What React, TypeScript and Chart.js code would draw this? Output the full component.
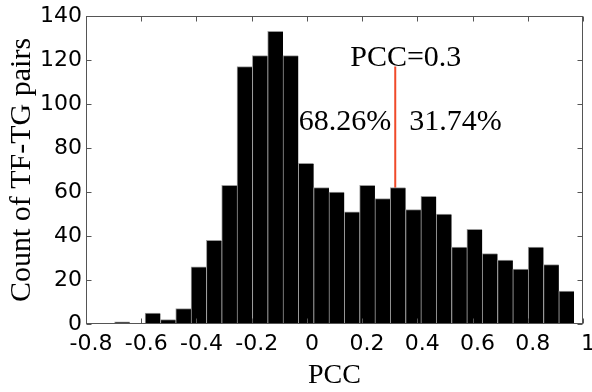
import React, { useEffect, useRef } from "react";
import { Chart, registerables } from "chart.js";

Chart.register(...registerables);

// Histogram bin centres (PCC) and counts
const binCenters = [
  -0.669, -0.614, -0.558, -0.503, -0.447, -0.392, -0.336, -0.281, -0.225, -0.17,
  -0.114, -0.059, -0.003, 0.052, 0.108, 0.163, 0.219, 0.274, 0.33, 0.385,
  0.441, 0.496, 0.552, 0.607, 0.663, 0.718, 0.774, 0.829, 0.885, 0.94,
];
const counts = [
  1, 0, 5, 2, 7, 26, 38, 63, 117, 122,
  133, 122, 73, 62, 60, 51, 63, 57, 62, 52,
  58, 50, 35, 43, 32, 29, 25, 35, 27, 15,
];
const xTicks = [-0.8, -0.6, -0.4, -0.2, 0, 0.2, 0.4, 0.6, 0.8, 1];
const yTicks = [0, 20, 40, 60, 80, 100, 120, 140];

// Threshold marker
const thresholdX = 0.32;
const thresholdTop = 117;
const thresholdLabel = "PCC=0.3";
const pctY = 88;
const leftPct = "68.26%";
const rightPct = "31.74%";

const xTitle = "PCC";
const yTitle = "Count of TF-TG pairs";

const SERIF = "'Liberation Serif', 'Times New Roman', serif";
const SANS = "'DejaVu Sans', sans-serif";

const overlay = {
  id: "overlay",
  afterDatasetsDraw(chart: any) {
    const { ctx, chartArea: a, scales } = chart;
    const x = scales.x;
    const y = scales.y;
    ctx.save();
    ctx.strokeStyle = "#555";
    ctx.lineWidth = 1;
    const L = Math.round(a.left) + 0.5;
    const R = Math.round(a.right) - 0.5;
    const T = Math.round(a.top) + 0.5;
    const B = Math.round(a.bottom) - 0.5;
    ctx.strokeRect(L, T, R - L, B - T);
    const tl = 5;
    ctx.beginPath();
    for (const v of xTicks) {
      const px = Math.round(x.getPixelForValue(v)) + 0.5;
      ctx.moveTo(px, B);
      ctx.lineTo(px, B - tl);
      ctx.moveTo(px, T);
      ctx.lineTo(px, T + tl);
    }
    for (const v of yTicks) {
      const py = Math.round(y.getPixelForValue(v)) + 0.5;
      ctx.moveTo(L, py);
      ctx.lineTo(L + tl, py);
      ctx.moveTo(R, py);
      ctx.lineTo(R - tl, py);
    }
    ctx.stroke();

    const lx = x.getPixelForValue(thresholdX);
    ctx.fillStyle = "#000";
    ctx.font = `30px ${SERIF}`;
    ctx.textBaseline = "alphabetic";
    ctx.textAlign = "left";
    ctx.fillText(thresholdLabel, lx - 45, y.getPixelForValue(thresholdTop) - 1);
    const py = y.getPixelForValue(pctY);
    ctx.textAlign = "right";
    ctx.fillText(leftPct, lx - 4, py);
    ctx.textAlign = "left";
    ctx.fillText(rightPct, lx + 14, py);
    ctx.restore();
  },
};

export default function App() {
  const ref = useRef<HTMLCanvasElement | null>(null);

  useEffect(() => {
    if (!ref.current) return;
    Chart.defaults.font.family = SANS;
    const chart = new Chart(ref.current, {
      type: "bar",
      data: {
        datasets: [
          {
            type: "bar",
            label: "count",
            data: binCenters.map((c, i) => ({ x: c, y: counts[i] })),
            backgroundColor: "#000",
            borderColor: "#9a9a9a",
            borderWidth: { left: 1, top: 1, right: 0, bottom: 0 },
            borderSkipped: false,
            barThickness: "flex",
            categoryPercentage: 1,
            barPercentage: 1,
            order: 1,
          } as any,
          {
            type: "line",
            label: "threshold",
            data: [
              { x: thresholdX, y: 0 },
              { x: thresholdX, y: thresholdTop },
            ],
            borderColor: "#f04a2a",
            borderWidth: 2,
            pointRadius: 0,
            order: 2,
          } as any,
        ],
      },
      options: {
        responsive: false,
        animation: false,
        devicePixelRatio: 1,
        layout: { padding: { left: 0, top: 16, right: 9, bottom: 0 } },
        plugins: {
          legend: { display: false },
          tooltip: { enabled: false },
        },
        scales: {
          x: {
            type: "linear",
            min: -0.8,
            max: 1,
            offset: false,
            grid: { display: false, drawTicks: false, offset: false },
            border: { display: false },
            afterBuildTicks: (s: any) => {
              s.ticks = xTicks.map((v) => ({ value: v }));
            },
            afterFit: (s: any) => {
              s.height = 68;
              s.paddingRight = 0;
              s.paddingLeft = 0;
            },
            ticks: {
              autoSkip: false,
              maxRotation: 0,
              minRotation: 0,
              padding: 7,
              labelOffset: 5,
              color: "#000",
              font: { family: SANS, size: 22 },
              callback: (v: any) => String(Math.round(Number(v) * 10) / 10),
            },
            title: {
              display: true,
              text: xTitle,
              color: "#000",
              font: { family: SERIF, size: 28 },
              padding: { top: 0, bottom: 0 },
            },
          },
          y: {
            type: "linear",
            min: 0,
            max: 140,
            grid: { display: false, drawTicks: false },
            border: { display: false },
            afterBuildTicks: (s: any) => {
              s.ticks = yTicks.map((v) => ({ value: v }));
            },
            afterFit: (s: any) => {
              s.width = 86;
              s.paddingTop = 0;
              s.paddingBottom = 0;
            },
            ticks: {
              padding: 4,
              color: "#000",
              font: { family: SANS, size: 22 },
            },
            title: {
              display: true,
              text: yTitle,
              color: "#000",
              font: { family: SERIF, size: 30 },
              padding: { top: 4, bottom: 0 },
            },
          },
        },
      } as any,
      plugins: [overlay],
    });
    return () => chart.destroy();
  }, []);

  return (
    <div style={{ position: "absolute", left: 0, top: 0, width: 592, height: 392, background: "#fff" }}>
      <canvas ref={ref} width={592} height={392} />
    </div>
  );
}
